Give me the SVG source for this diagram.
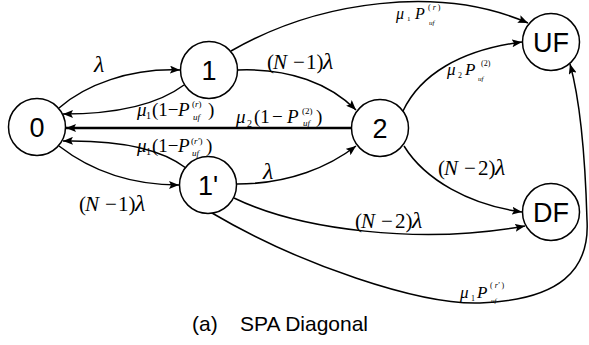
<svg xmlns="http://www.w3.org/2000/svg" width="589" height="345" viewBox="0 0 589 345">
<style>
.node{fill:#fff;stroke:#000;stroke-width:1.5}
.nl{font-family:"Liberation Sans",Arial,sans-serif;font-size:27px;text-anchor:middle;fill:#000}
.e{fill:none;stroke:#000;stroke-width:1.5;marker-end:url(#ah)}
.m{font-family:"Liberation Serif","Times New Roman",serif;font-size:21px;fill:#000}
.i{font-style:italic}
.l{font-size:24px}
.s{font-size:10px}
.t{font-size:9px}
.cap{font-family:"Liberation Sans",Arial,sans-serif;font-size:21px;fill:#000}
</style>
<defs>
<marker id="ah" viewBox="0 0 10 8" refX="10" refY="4" markerWidth="10" markerHeight="8" markerUnits="userSpaceOnUse" orient="auto">
<path d="M0,0 L10,4 L0,8 L2,4 z" fill="#000"/>
</marker>
</defs>
<g id="connectors">
<path class="e" d="M59,108 C85,85 130,68 180,70"/>
<path class="e" d="M184,85 C160,103 120,114 63,114"/>
<path class="e" d="M351,128 L66,128" style="stroke-width:2.5"/>
<path class="e" d="M186,168 C160,148 120,140 63,141"/>
<path class="e" d="M59,146 C90,170 130,185 179,185"/>
<path class="e" d="M238,70 C290,68 330,84 356,110"/>
<path class="e" d="M237,184 C290,184 330,166 356,146"/>
<path class="e" d="M231,51 C320,0 440,-15 528,23"/>
<path class="e" d="M403,111 C420,75 460,50 522,42"/>
<path class="e" d="M404,146 C425,180 470,205 522,212"/>
<path class="e" d="M234,198 C300,230 420,245 525,226"/>
<path class="e" d="M212,213 C300,265 420,305 480,303 C560,300 590,270 587,220 C585,150 580,100 570,64"/>
</g>
<g id="labels">
<text class="m i l" x="94" y="72">λ</text>
<text class="m i l" x="263" y="179">λ</text>
<text class="m" y="69"><tspan x="267">(</tspan><tspan class="i" x="273">N</tspan><tspan x="293">−</tspan><tspan x="306">1)</tspan><tspan class="i l" x="323">λ</tspan></text>
<text class="m" y="211"><tspan x="79">(</tspan><tspan class="i" x="85">N</tspan><tspan x="105">−</tspan><tspan x="118">1)</tspan><tspan class="i l" x="135">λ</tspan></text>
<text class="m" y="175"><tspan x="438">(</tspan><tspan class="i" x="444">N</tspan><tspan x="464">−</tspan><tspan x="478">2)</tspan><tspan class="i l" x="495">λ</tspan></text>
<text class="m" y="228"><tspan x="355">(</tspan><tspan class="i" x="361">N</tspan><tspan x="381">−</tspan><tspan x="395">2)</tspan><tspan class="i l" x="412">λ</tspan></text>
<text class="m" style="font-size:19px"><tspan class="i" x="137" y="116">μ</tspan><tspan class="s" x="146" y="119">1</tspan><tspan x="152" y="116">(1−</tspan><tspan class="i" x="178" y="116">P</tspan><tspan class="t" x="192" y="107">(</tspan><tspan class="t i">r</tspan><tspan class="t">)</tspan><tspan class="t i" x="193" y="120">uf</tspan><tspan x="208" y="116">)</tspan></text>
<text class="m" style="font-size:19px"><tspan class="i" x="236" y="123">μ</tspan><tspan class="s" x="247" y="127">2</tspan><tspan x="254" y="123">(1</tspan><tspan x="272" y="123">−</tspan><tspan class="i" x="287" y="123">P</tspan><tspan class="t" x="302" y="114">(2)</tspan><tspan class="t i" x="303" y="126">uf</tspan><tspan x="316" y="123">)</tspan></text>
<text class="m" style="font-size:19px"><tspan class="i" x="137" y="152">μ</tspan><tspan class="s" x="146" y="155">1</tspan><tspan x="152" y="152">(1−</tspan><tspan class="i" x="178" y="152">P</tspan><tspan class="t" x="191" y="144">(</tspan><tspan class="t i">r'</tspan><tspan class="t">)</tspan><tspan class="t i" x="192" y="156">uf</tspan><tspan x="206" y="152">)</tspan></text>
<text class="m" style="font-size:16px"><tspan class="i" x="396" y="19">μ</tspan><tspan class="t" style="font-size:7px" x="407" y="21">1</tspan><tspan class="i" x="415" y="19">P</tspan><tspan class="t" style="font-size:8px" x="428" y="10">( </tspan><tspan class="t i" style="font-size:8px">r</tspan><tspan class="t" style="font-size:8px"> )</tspan><tspan class="t i" style="font-size:7px" x="429" y="25">uf</tspan></text>
<text class="m" style="font-size:17px"><tspan class="i" x="447" y="75">μ</tspan><tspan class="t" style="font-size:8px" x="458" y="78">2</tspan><tspan class="i" x="465" y="75">P</tspan><tspan class="t" style="font-size:8px" x="481" y="66">(2)</tspan><tspan class="t i" style="font-size:7px" x="478" y="81">uf</tspan></text>
<text class="m" style="font-size:17px"><tspan class="i" x="460" y="298">μ</tspan><tspan class="t" style="font-size:8px" x="471" y="301">1</tspan><tspan class="i" x="477" y="298">P</tspan><tspan class="t" style="font-size:8px" x="490" y="288">( </tspan><tspan class="t i" style="font-size:8px">r'</tspan><tspan class="t" style="font-size:8px"> )</tspan><tspan class="t i" style="font-size:7px" x="491" y="303">uf</tspan></text>
</g>
<g id="n0"><circle class="node" cx="37" cy="127" r="28.5"/><text class="nl" x="37" y="137">0</text></g>
<g id="n1"><circle class="node" cx="209" cy="70" r="28.5"/><text class="nl" x="209" y="80">1</text></g>
<g id="n1p"><circle class="node" cx="208" cy="185" r="28.5"/><text class="nl" x="208" y="195">1'</text></g>
<g id="n2"><circle class="node" cx="380" cy="128" r="28.5"/><text class="nl" x="380" y="138">2</text></g>
<g id="nUF"><circle class="node" cx="551" cy="42" r="28.5"/><text class="nl" x="551" y="52">UF</text></g>
<g id="nDF"><circle class="node" cx="551" cy="212" r="28.5"/><text class="nl" x="551" y="222">DF</text></g>
<g id="caption"><text class="cap" y="331"><tspan x="192">(a)</tspan><tspan x="240">SPA Diagonal</tspan></text></g>
</svg>
